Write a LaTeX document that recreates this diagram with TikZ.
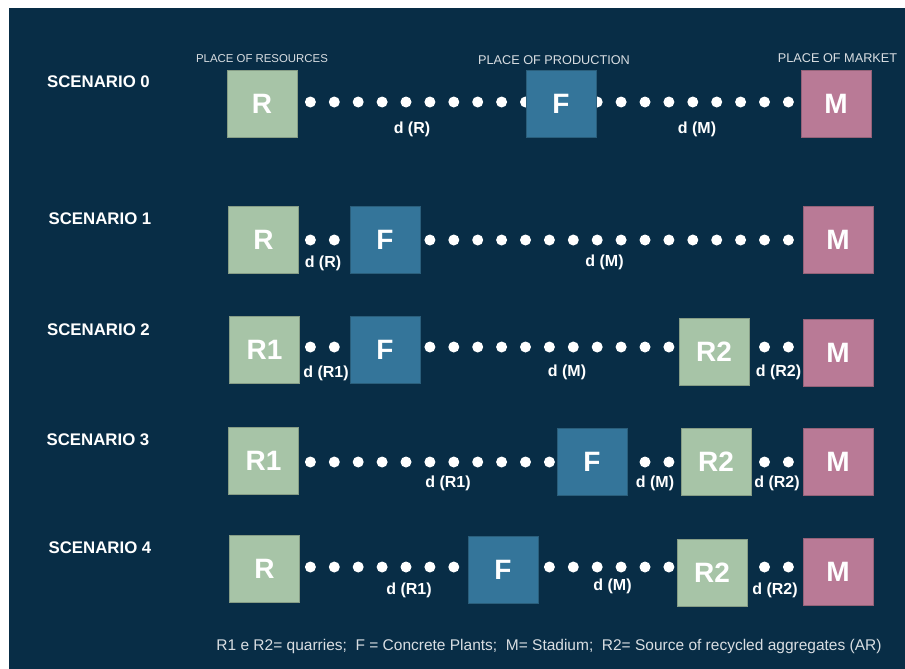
\documentclass[tikz,border=0pt]{standalone}
\usepackage{fontspec}
\setmainfont{Liberation Sans}
\usetikzlibrary{backgrounds}
\definecolor{fondo}{HTML}{082D46}
\definecolor{verde}{HTML}{A7C4A7}
\definecolor{azul}{HTML}{34759A}
\definecolor{rosa}{HTML}{B97A96}
\definecolor{gris}{HTML}{D9DEE2}
\begin{document}
\begin{tikzpicture}[x=1pt, y=-1pt,
    caja/.style={minimum width=70pt, minimum height=67pt, inner sep=0pt, line width=0.8pt,
        text=white, font=\fontsize{28}{30}\selectfont\bfseries},
    recurso/.style={caja, fill=verde, draw=verde!80!black},
    fabrica/.style={caja, fill=azul, draw=azul!80!black},
    mercado/.style={caja, fill=rosa, draw=rosa!80!black},
    puntos/.style={white, line width=11pt, line cap=round, dash pattern=on 0pt off 23.9pt},
    escenario/.style={text=white, font=\fontsize{16.8}{18}\selectfont\bfseries},
    lugar/.style={text=gris, font=\fontsize{12.7}{14}\selectfont},
    dist/.style={text=white, inner sep=0pt, font=\fontsize{16}{18}\selectfont\bfseries}]
    \useasboundingbox (0,0) rectangle (905,669);

    % Escenario 0
    \node[escenario] (e0) at (98.5,82) {SCENARIO 0};
    \node[recurso] (r0) at (262,103.5) {R};
    \node[fabrica] (f0) at (561,103.5) {F};
    \node[mercado] (m0) at (836,103.5) {M};
    \node[lugar, font=\fontsize{11.4}{13}\selectfont] (lr) at (262,58.5) {PLACE OF RESOURCES};
    \node[lugar] (lp) at (554,60.5) {PLACE OF PRODUCTION};
    \node[lugar] (lm) at (837.5,58.5) {PLACE OF MARKET};
    \node[dist] (d0r) at (412,129) {d (R)};
    \node[dist] (d0m) at (697,129) {d (M)};

    % Escenario 1
    \node[escenario] (e1) at (100,218.5) {SCENARIO 1};
    \node[recurso] (r1) at (263.5,240) {R};
    \node[fabrica] (f1) at (385,240) {F};
    \node[mercado] (m1) at (838,240) {M};
    \node[dist] (d1r) at (323,263) {d (R)};
    \node[dist] (d1m) at (604.5,262) {d (M)};

    % Escenario 2
    \node[escenario] (e2) at (98.5,330) {SCENARIO 2};
    \node[recurso] (r12) at (264.5,350) {R1};
    \node[fabrica] (f2) at (385,350) {F};
    \node[recurso] (r22) at (714,352) {R2};
    \node[mercado] (m2) at (838,352.5) {M};
    \node[dist] (d2r1) at (326,373) {d (R1)};
    \node[dist] (d2m) at (567,372) {d (M)};
    \node[dist] (d2r2) at (778.5,372) {d (R2)};

    % Escenario 3
    \node[escenario] (e3) at (98,440) {SCENARIO 3};
    \node[recurso] (r13) at (263.5,460.5) {R1};
    \node[fabrica] (f3) at (592,461.5) {F};
    \node[recurso] (r23) at (716,461.5) {R2};
    \node[mercado] (m3) at (838,461.5) {M};
    \node[dist] (d3r1) at (448,483) {d (R1)};
    \node[dist] (d3m) at (655,483) {d (M)};
    \node[dist] (d3r2) at (777,483) {d (R2)};

    % Escenario 4
    \node[escenario] (e4) at (100,548) {SCENARIO 4};
    \node[recurso] (r4) at (264.5,568.5) {R};
    \node[fabrica] (f4) at (503,569.5) {F};
    \node[recurso] (r24) at (712,572.5) {R2};
    \node[mercado] (m4) at (838,571.5) {M};
    \node[dist] (d4r1) at (409,590) {d (R1)};
    \node[dist] (d4m) at (612.5,586) {d (M)};
    \node[dist] (d4r2) at (775,590) {d (R2)};

    % Leyenda
    \node[lugar, font=\fontsize{15.5}{17}\selectfont] (nota) at (549,646)
        {R1 e R2= quarries;\ \ F = Concrete Plants;\ \ M= Stadium;\ \ R2= Source of recycled aggregates (AR)};

    % Fondo y distancias
    \begin{pgfonlayer}{background}
        \fill[fondo] (9,8) rectangle (905,669);
        \coordinate (y0) at (0,102);
        \coordinate (y1) at (0,240);
        \coordinate (y2) at (0,347);
        \coordinate (y3) at (0,462);
        \coordinate (y4) at (0,567);
        \draw[puntos] (r0.east |- y0) ++(13,0) -- (f0 |- y0);
        \draw[puntos] (f0.east |- y0) ++(0.8,0) -- (m0 |- y0);
        \draw[puntos] (r1.east |- y1) ++(11.5,0) -- (f1 |- y1);
        \draw[puntos] (f1.east |- y1) ++(9.5,0) -- (m1 |- y1);
        \draw[puntos] (r12.east |- y2) ++(10.5,0) -- (f2 |- y2);
        \draw[puntos] (f2.east |- y2) ++(9.5,0) -- (r22 |- y2);
        \draw[puntos] (r22.east |- y2) ++(15.1,0) -- (m2 |- y2);
        \draw[puntos] (r13.east |- y3) ++(11.5,0) -- (f3 |- y3);
        \draw[puntos] (f3.east |- y3) ++(17.6,0) -- (r23 |- y3);
        \draw[puntos] (r23.east |- y3) ++(13.1,0) -- (m3 |- y3);
        \draw[puntos] (r4.east |- y4) ++(10.5,0) -- (f4 |- y4);
        \draw[puntos] (f4.east |- y4) ++(11,0) -- (r24 |- y4);
        \draw[puntos] (r24.east |- y4) ++(17.1,0) -- (m4 |- y4);
    \end{pgfonlayer}
\end{tikzpicture}
\end{document}
